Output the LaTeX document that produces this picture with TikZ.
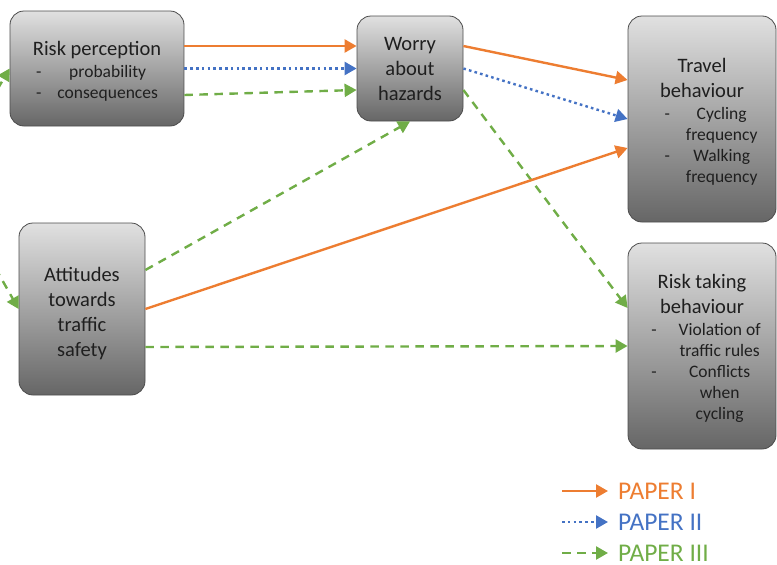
\documentclass[tikz,border=0pt]{standalone}
\usepackage{fontspec}
\setmainfont{Carlito}
\usepackage{tikz}
\usetikzlibrary{
  arrows.meta,
  positioning
}
\definecolor{paperone}{HTML}{ED7D31}
\definecolor{papertwo}{HTML}{4472C4}
\definecolor{paperthree}{HTML}{70AD47}
\newcommand{\subsize}{\fontsize{17.5}{21}\selectfont}
\newcommand{\toppad}{\rule{0pt}{23pt}}

\begin{document}
\begin{tikzpicture}[x=1pt,y=-1pt,every text node part/.style={align=center},
  box/.style={rectangle,rounded corners=14pt,draw=black!70,line width=0.8pt,
    top color=black!12,bottom color=black!60,text=black!88,inner sep=0pt,
    font=\fontsize{20.5}{25}\selectfont},
  link/.style={line width=2.4pt,-{Triangle[length=12pt,width=13pt]}},
  paperI/.style={link,color=paperone},
  paperII/.style={link,color=papertwo,dash pattern=on 2.6pt off 3.2pt},
  paperIII/.style={link,color=paperthree,dash pattern=on 8.5pt off 6.5pt},
  legend/.style={anchor=base west,inner sep=0pt,font=\fontsize{25.5}{30}\selectfont}]
  \useasboundingbox (0,0) rectangle (777,565);

  \node[box,minimum width=174pt,minimum height=115pt] (1) at (97,68.5)
    {\toppad Risk perception\\[-3pt]{\subsize\begin{tabular}[t]{@{}l@{\hspace{16pt}}c@{}}
      - & probability\\ - & consequences\end{tabular}}};
  \node[box,minimum width=106pt,minimum height=105pt] (2) at (410,68.5)
    {Worry\\about\\hazards};
  \node[box,minimum width=148pt,minimum height=206pt] (3) at (702,119)
    {\toppad Travel\\behaviour\\[-3pt]\hspace*{18pt}{\subsize\begin{tabular}[t]{@{}l@{\hspace{16pt}}c@{}}
      - & Cycling\\ & frequency\\ - & Walking\\ & frequency\end{tabular}}};
  \node[box,minimum width=148pt,minimum height=206pt] (4) at (702,346)
    {\toppad Risk taking\\behaviour\\[-3pt]\hspace*{8pt}{\subsize\begin{tabular}[t]{@{}l@{\hspace{22pt}}c@{}}
      - & Violation of\\ & traffic rules\\ - & Conflicts\\ & when\\ & cycling\end{tabular}}};
  \node[box,minimum width=126pt,minimum height=172pt] (5) at (82,309)
    {\toppad Attitudes\\towards\\traffic\\safety};

  % arrows coming in from the left
  \coordinate (12) at (-10,102);
  \coordinate (13) at (-12,255);
  \draw[paperIII] (12) -- (1.west);
  \draw[paperIII] (13) -- (5.west);

  \draw[paperI] ([yshift=22.5pt]1.east) -- ([yshift=22.5pt]2.west);
  \draw[paperII] (1.east) -- (2.west);
  \draw[paperIII] ([yshift=-26.5pt]1.east) -- ([yshift=-21.5pt]2.west);

  \draw[paperI] ([yshift=22.5pt]2.east) -- ([yshift=39pt]3.west);
  \draw[paperII] (2.east) -- (3.west);
  \draw[paperIII] ([yshift=-21.5pt]2.east) -- ([yshift=38pt]4.west);

  \draw[paperIII] ([yshift=39pt]5.east) -- (2.south);
  \draw[paperI] (5.east) -- ([yshift=-29pt]3.west);
  \draw[paperIII] ([yshift=-38pt]5.east) -- (4.west);

  % legend
  \node[legend,text=paperone] (9) at (618,499.5) {PAPER I};
  \node[legend,text=papertwo] (10) at (618,530.5) {PAPER II};
  \node[legend,text=paperthree] (11) at (618,561.5) {PAPER III};
  \coordinate (6) at (562,491);
  \coordinate (7) at (562,522);
  \coordinate (8) at (562,553);
  \draw[paperI,shorten >=10pt] (6) -- (6 -| 9.west);
  \draw[paperII,shorten >=10pt] (7) -- (7 -| 10.west);
  \draw[paperIII,shorten >=10pt] (8) -- (8 -| 11.west);
\end{tikzpicture}
\end{document}
